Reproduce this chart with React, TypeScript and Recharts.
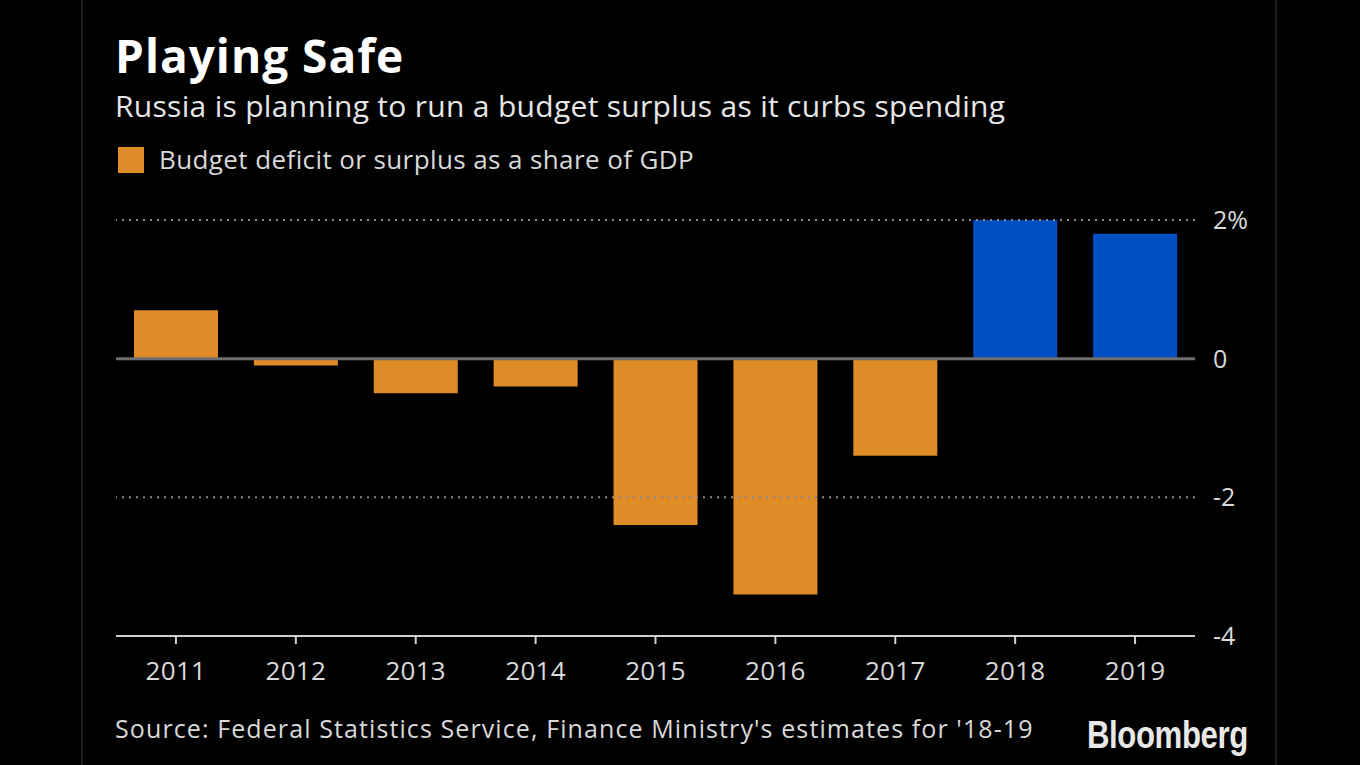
import { BarChart, Bar, Cell, XAxis, YAxis, ReferenceLine } from "recharts";

// Budget balance as % of GDP; 2018-19 are Finance Ministry estimates (blue).
const years = ["2011", "2012", "2013", "2014", "2015", "2016", "2017", "2018", "2019"];
const balance = [0.7, -0.1, -0.5, -0.4, -2.4, -3.4, -1.4, 2.0, 1.8];
const isEstimate = [false, false, false, false, false, false, false, true, true];
const yTicks = [-4, -2, 0, 2];

const ORANGE = "#df8b27";
const BLUE = "#0050c3";
const FONT = "'Open Sans', 'Noto Sans', sans-serif";

const data = years.map((year, i) => ({ year, value: balance[i], estimate: isEstimate[i] }));

export default function App() {
  return (
    <div
      style={{
        position: "absolute",
        left: 0,
        top: 0,
        width: 1360,
        height: 765,
        background: "#000",
        overflow: "hidden",
        fontFamily: FONT,
      }}
    >
      {/* faint panel edges */}
      <div style={{ position: "absolute", left: 81, top: 0, width: 2, height: 765, background: "#1c1c1c" }} />
      <div style={{ position: "absolute", left: 1275, top: 0, width: 2, height: 765, background: "#1c1c1c" }} />

      <div
        style={{
          position: "absolute",
          left: 115,
          top: 30,
          color: "#fff",
          fontSize: 46,
          fontWeight: 700,
          lineHeight: "50px",
          letterSpacing: 1,
          whiteSpace: "nowrap",
        }}
      >
        Playing Safe
      </div>
      <div
        style={{
          position: "absolute",
          left: 115,
          top: 87,
          color: "#e6e6e6",
          fontSize: 30,
          lineHeight: "38px",
          letterSpacing: 0.3,
          whiteSpace: "nowrap",
        }}
      >
        Russia is planning to run a budget surplus as it curbs spending
      </div>
      <div style={{ position: "absolute", left: 118, top: 147, width: 26, height: 26, background: ORANGE }} />
      <div
        style={{
          position: "absolute",
          left: 159,
          top: 144,
          color: "#d9d9d9",
          fontSize: 26,
          lineHeight: "30px",
          letterSpacing: 0.4,
          whiteSpace: "nowrap",
        }}
      >
        Budget deficit or surplus as a share of GDP
      </div>

      <div style={{ position: "absolute", left: 0, top: 0 }}>
        <BarChart
          width={1360}
          height={765}
          data={data}
          margin={{ top: 220, right: 105, bottom: 69, left: 116 }}
          barCategoryGap="15%"
        >
          <ReferenceLine y={2} stroke="#8a8a8a" strokeWidth={2} strokeDasharray="2 5" />
          <ReferenceLine y={-2} stroke="#8a8a8a" strokeWidth={2} strokeDasharray="2 5" />
          <XAxis
            dataKey="year"
            axisLine={{ stroke: "#d0d0d0", strokeWidth: 2 }}
            tickLine={{ stroke: "#d0d0d0", strokeWidth: 2 }}
            tickSize={8}
            tickMargin={18}
            height={60}
            tick={{ fill: "#d9d9d9", fontSize: 26, fontFamily: FONT, letterSpacing: 0.3 }}
          />
          <YAxis
            orientation="right"
            domain={[-4, 2]}
            ticks={yTicks}
            width={60}
            axisLine={false}
            tickLine={false}
            tickSize={0}
            tickMargin={18}
            tickFormatter={(v: number) => (v === 2 ? "2%" : String(v))}
            tick={{ fill: "#d9d9d9", fontSize: 25, fontFamily: FONT, textAnchor: "start" }}
          />
          <Bar dataKey="value" isAnimationActive={false}>
            {data.map((d) => (
              <Cell key={d.year} fill={d.estimate ? BLUE : ORANGE} />
            ))}
          </Bar>
          <ReferenceLine y={0} stroke="#6e6e6e" strokeWidth={3} />
        </BarChart>
      </div>

      <div
        style={{
          position: "absolute",
          left: 115,
          top: 712,
          color: "#d9d9d9",
          fontSize: 25,
          lineHeight: "32px",
          letterSpacing: 1.1,
          whiteSpace: "nowrap",
        }}
      >
        Source: Federal Statistics Service, Finance Ministry's estimates for '18-19
      </div>
      <div
        style={{
          position: "absolute",
          left: 1087,
          top: 716,
          color: "#e8e8e8",
          fontSize: 38,
          fontWeight: 700,
          lineHeight: "38px",
          letterSpacing: -0.5,
          transform: "scaleX(0.82)",
          transformOrigin: "left top",
          whiteSpace: "nowrap",
          fontFamily: "'Liberation Sans', Arial, sans-serif",
        }}
      >
        Bloomberg
      </div>
    </div>
  );
}
